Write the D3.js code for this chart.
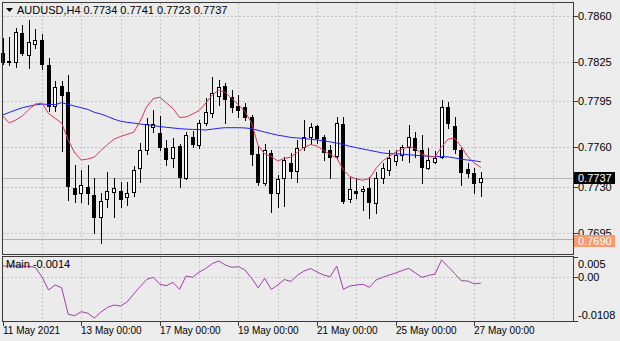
<!DOCTYPE html>
<html><head><meta charset="utf-8">
<script src="https://cdn.jsdelivr.net/npm/d3@7"></script>
<style>
body{margin:0;background:#ececec;}
svg{display:block;}
text{font-family:"Liberation Sans",Arial,sans-serif;font-size:11px;fill:#000;}
text.date{font-size:10px;}
</style>
</head><body>
<svg id="chart" width="620" height="341"></svg>
<script>
// AUDUSD H4 candles, 11 May 2021 00:00 .. 27 May 2021 04:00
const symbol = "AUDUSD,H4";
const open = [0.78319,0.78256,0.78252,0.78471,0.78303,0.78387,0.78414,0.78227,0.77915,0.78064,
  0.78018,0.77291,0.77251,0.77301,0.77238,0.77073,0.77204,0.77257,0.77272,0.77221,
  0.77257,0.77441,0.77581,0.77759,0.77712,0.77593,0.77517,0.77611,0.77371,0.77682,
  0.77619,0.77784,0.77860,0.77991,0.78068,0.77982,0.77915,0.77905,0.77834,0.77550,
  0.77329,0.77558,0.77253,0.77365,0.77484,0.77421,0.77601,0.77677,0.77763,0.77682,
  0.77581,0.77535,0.77778,0.77205,0.77271,0.77268,0.77289,0.77179,0.77365,0.77428,
  0.77499,0.77542,0.77601,0.77670,0.77581,0.77441,0.77491,0.77530,0.77910,0.77763,
  0.77581,0.77434,0.77403,0.77340];
const high = [0.78433,0.78443,0.78505,0.78532,0.78570,0.78501,0.78463,0.78281,0.78102,0.78102,
  0.78151,0.77466,0.77428,0.77466,0.77367,0.77253,0.77413,0.77367,0.77337,0.77337,
  0.77459,0.77634,0.77824,0.77885,0.77839,0.77657,0.77672,0.77626,0.77721,0.77725,
  0.77809,0.77974,0.78138,0.78113,0.78087,0.78037,0.77999,0.77938,0.77847,0.77611,
  0.77626,0.77581,0.77390,0.77527,0.77558,0.77653,0.77809,0.77784,0.77771,0.77695,
  0.77619,0.77829,0.77829,0.77377,0.77365,0.77307,0.77377,0.77415,0.77482,0.77581,
  0.77581,0.77619,0.77771,0.77720,0.77695,0.77593,0.77573,0.77961,0.77948,0.77834,
  0.77593,0.77479,0.77441,0.77410];
const low = [0.78235,0.78227,0.78214,0.78303,0.78205,0.78357,0.78197,0.77877,0.77877,0.77573,
  0.77200,0.77185,0.77185,0.77170,0.76949,0.76875,0.77147,0.77073,0.77147,0.77162,
  0.77230,0.77337,0.77550,0.77720,0.77581,0.77466,0.77453,0.77301,0.77360,0.77606,
  0.77593,0.77771,0.77834,0.77923,0.77786,0.77872,0.77832,0.77809,0.77466,0.77314,
  0.77314,0.77111,0.77149,0.77154,0.77367,0.77339,0.77581,0.77626,0.77634,0.77504,
  0.77367,0.77517,0.77179,0.77187,0.77213,0.77124,0.77063,0.77101,0.77329,0.77390,
  0.77466,0.77504,0.77491,0.77530,0.77332,0.77434,0.77482,0.77517,0.77746,0.77555,
  0.77314,0.77377,0.77251,0.77230];
const close = [0.78250,0.78252,0.78481,0.78316,0.78402,0.78418,0.78235,0.77915,0.78056,0.77999,
  0.77303,0.77242,0.77314,0.77251,0.77073,0.77189,0.77268,0.77288,0.77204,0.77251,
  0.77428,0.77581,0.77778,0.77782,0.77601,0.77510,0.77606,0.77377,0.77695,0.77626,
  0.77784,0.77872,0.78017,0.78058,0.77966,0.77905,0.77885,0.77834,0.77550,0.77339,
  0.77577,0.77256,0.77356,0.77504,0.77421,0.77593,0.77682,0.77753,0.77670,0.77568,
  0.77530,0.77784,0.77195,0.77281,0.77256,0.77284,0.77187,0.77370,0.77441,0.77517,
  0.77542,0.77601,0.77677,0.77581,0.77449,0.77504,0.77517,0.77910,0.77784,0.77586,
  0.77415,0.77408,0.77332,0.77370];
// fast moving average (red)
const maFast = [0.77839,0.77786,0.77809,0.77839,0.77889,0.77931,0.77938,0.77858,0.77822,0.77784,
  0.77657,0.77558,0.77504,0.77512,0.77527,0.77577,0.77622,0.77664,0.77683,0.77700,
  0.77715,0.77801,0.77912,0.77972,0.77982,0.77938,0.77896,0.77828,0.77832,0.77854,
  0.77881,0.77938,0.77999,0.78037,0.78018,0.77971,0.77923,0.77872,0.77786,0.77615,
  0.77550,0.77531,0.77497,0.77516,0.77527,0.77563,0.77600,0.77622,0.77611,0.77577,
  0.77546,0.77520,0.77428,0.77379,0.77360,0.77350,0.77364,0.77440,0.77497,0.77531,
  0.77565,0.77588,0.77605,0.77592,0.77550,0.77530,0.77530,0.77603,0.77664,0.77670,
  0.77607,0.77530,0.77482,0.77447];
// slow moving average (blue)
const maSlow = [0.77847,0.77866,0.77885,0.77902,0.77913,0.77924,0.77930,0.77927,0.77926,0.77940,
  0.77927,0.77914,0.77902,0.77889,0.77867,0.77854,0.77836,0.77815,0.77799,0.77791,
  0.77785,0.77778,0.77772,0.77766,0.77759,0.77753,0.77748,0.77743,0.77739,0.77737,
  0.77735,0.77733,0.77739,0.77746,0.77750,0.77750,0.77750,0.77748,0.77743,0.77730,
  0.77717,0.77705,0.77693,0.77685,0.77676,0.77672,0.77668,0.77662,0.77657,0.77650,
  0.77642,0.77633,0.77622,0.77609,0.77598,0.77588,0.77578,0.77568,0.77558,0.77553,
  0.77551,0.77549,0.77544,0.77540,0.77536,0.77533,0.77530,0.77530,0.77528,0.77520,
  0.77510,0.77504,0.77498,0.77491];
// oscillator "Main" line of the lower window
const mainLine = [0.00282,0.00282,0.00282,0.00282,0.00270,0.00245,0.00010,-0.00312,-0.00188,-0.00255,
  -0.00913,-0.00948,-0.00849,-0.00889,-0.01005,-0.00856,-0.00745,-0.00683,-0.00708,-0.00609,
  -0.00411,-0.00225,-0.00047,0.00002,-0.00171,-0.00205,-0.00121,-0.00295,0.00035,0.00002,
  0.00134,0.00220,0.00344,0.00406,0.00307,0.00250,0.00265,0.00183,-0.00022,-0.00255,
  -0.00022,-0.00295,-0.00188,-0.00052,-0.00101,0.00052,0.00158,0.00218,0.00134,0.00059,
  0.00017,0.00282,-0.00295,-0.00213,-0.00188,-0.00171,-0.00245,-0.00064,0.00002,0.00059,
  0.00109,0.00171,0.00225,0.00109,0.00002,0.00047,0.00084,0.00431,0.00270,0.00097,
  -0.00082,-0.00089,-0.00163,-0.00140];
const dateLabels = [
  {bar: 0, text: "11 May 2021"}, {bar: 12, text: "13 May 00:00"}, {bar: 24, text: "17 May 00:00"},
  {bar: 36, text: "19 May 00:00"}, {bar: 48, text: "21 May 00:00"}, {bar: 60, text: "25 May 00:00"},
  {bar: 72, text: "27 May 00:00"}];
const priceTicks = [0.7860, 0.7825, 0.7795, 0.7760, 0.7730, 0.7695];
const supportLevel = 0.7690;
const subTicks = [{v: 0.005, t: "0.005"}, {v: 0, t: "0.00"}, {v: -0.0108, t: "-0.0108"}];
const subLabel = "Main";

const svg = d3.select("#chart");
const frame = {left: 2.5, right: 573.5, top: 2.5, bottom: 254.5};
const sub = {top: 256.5, bottom: 321.5};
const n = open.length;

const x = d3.scaleLinear().domain([0, n - 1]).range([2.7, 2.7 + 6.55 * (n - 1)]);
const y = d3.scaleLinear().domain([0.76789, 0.78699]).range([254, 3]);
const ys = d3.scaleLinear().domain([-0.0108, 0.0053]).range([321, 256]);

const gridColor = "#c4c4c4";
const px = v => Math.round(v) + 0.5;

// panel backgrounds
svg.append("rect").attr("x", frame.left).attr("y", frame.top)
  .attr("width", frame.right - frame.left).attr("height", frame.bottom - frame.top).attr("fill", "#ebebeb");
svg.append("rect").attr("x", frame.left).attr("y", sub.top)
  .attr("width", frame.right - frame.left).attr("height", sub.bottom - sub.top).attr("fill", "#ebebeb");

const grid = svg.append("g").attr("stroke", gridColor).attr("stroke-dasharray", "2,2")
  .attr("shape-rendering", "crispEdges");
// vertical grid every day (6 bars)
for (let b = 6; x(b) < frame.right - 2; b += 6) {
  grid.append("line").attr("x1", px(x(b))).attr("x2", px(x(b))).attr("y1", frame.top).attr("y2", frame.bottom);
  grid.append("line").attr("x1", px(x(b))).attr("x2", px(x(b))).attr("y1", sub.top).attr("y2", sub.bottom);
}
priceTicks.forEach(p => {
  grid.append("line").attr("x1", frame.left).attr("x2", frame.right).attr("y1", px(y(p))).attr("y2", px(y(p)));
});
grid.append("line").attr("x1", frame.left).attr("x2", frame.right).attr("y1", px(ys(0))).attr("y2", px(ys(0)));

// bid line
const last = n - 1;
svg.append("line").attr("x1", frame.left).attr("x2", frame.right)
  .attr("y1", px(y(close[last]))).attr("y2", px(y(close[last])))
  .attr("stroke", "#b8b8b8").attr("shape-rendering", "crispEdges");

// support level
svg.append("line").attr("x1", frame.left).attr("x2", frame.right)
  .attr("y1", px(y(supportLevel))).attr("y2", px(y(supportLevel)))
  .attr("stroke", "#f79a6e").attr("shape-rendering", "crispEdges");

// candles
const candles = svg.append("g").attr("shape-rendering", "crispEdges");
d3.range(n).forEach(i => {
  const cx = Math.round(x(i));
  candles.append("line").attr("x1", cx + 0.5).attr("x2", cx + 0.5)
    .attr("y1", Math.round(y(high[i]))).attr("y2", Math.round(y(low[i])) + 1)
    .attr("stroke", "#000");
  const top = Math.round(y(Math.max(open[i], close[i])));
  const bot = Math.round(y(Math.min(open[i], close[i])));
  const bull = close[i] >= open[i];
  candles.append("rect").attr("x", cx - 1.5).attr("y", top + 0.5)
    .attr("width", 3).attr("height", Math.max(bot - top, 0))
    .attr("fill", bull ? "#fff" : "#000").attr("stroke", "#000");
});

// moving averages
const lineMain = d3.line().x((d, i) => x(i)).y(d => y(d));
svg.append("path").datum(maSlow).attr("d", lineMain).attr("fill", "none").attr("stroke", "#1f1fff").attr("stroke-width", 1);
svg.append("path").datum(maFast).attr("d", lineMain).attr("fill", "none").attr("stroke", "#e0355c").attr("stroke-width", 1);

// oscillator
const lineSub = d3.line().x((d, i) => x(i)).y(d => ys(d));
svg.append("path").datum(mainLine).attr("d", lineSub).attr("fill", "none").attr("stroke", "#a23ea8").attr("stroke-width", 1);

// frames
const frames = svg.append("g").attr("fill", "none").attr("stroke", "#3a3a3a").attr("shape-rendering", "crispEdges");
frames.append("rect").attr("x", frame.left).attr("y", frame.top).attr("width", frame.right - frame.left).attr("height", frame.bottom - frame.top);
frames.append("rect").attr("x", frame.left).attr("y", sub.top).attr("width", frame.right - frame.left).attr("height", sub.bottom - sub.top);

// price axis
const axisG = svg.append("g");
priceTicks.forEach(p => {
  axisG.append("line").attr("x1", frame.right).attr("x2", frame.right + 4).attr("y1", px(y(p))).attr("y2", px(y(p)))
    .attr("stroke", "#3a3a3a").attr("shape-rendering", "crispEdges");
  axisG.append("text").attr("x", 578).attr("y", y(p)).attr("dy", "0.36em").text(p.toFixed(4));
});
// current price label
const cy = y(close[last]);
axisG.append("rect").attr("x", 574).attr("y", Math.round(cy) - 6).attr("width", 41).attr("height", 12).attr("fill", "#000");
axisG.append("text").attr("x", 578).attr("y", cy).attr("dy", "0.36em").style("fill", "#fff").text(close[last].toFixed(4));
// support label
const sy = y(supportLevel);
axisG.append("rect").attr("x", 574).attr("y", Math.round(sy) - 4).attr("width", 41).attr("height", 12).attr("fill", "#f79a6e");
axisG.append("text").attr("x", 578).attr("y", sy + 2).attr("dy", "0.36em").style("fill", "#fff").text(supportLevel.toFixed(4));

// oscillator axis
subTicks.forEach(s => {
  const ty = ys(s.v);
  axisG.append("line").attr("x1", frame.right).attr("x2", frame.right + 4).attr("y1", px(ty)).attr("y2", px(ty))
    .attr("stroke", "#3a3a3a").attr("shape-rendering", "crispEdges");
  const ly = Math.min(Math.max(ty, 264), 315);
  axisG.append("text").attr("x", 578).attr("y", ly).attr("dy", "0.36em").text(s.t);
});

// time axis
dateLabels.forEach(d => {
  const tx = Math.round(x(d.bar));
  axisG.append("line").attr("x1", tx + 0.5).attr("x2", tx + 0.5).attr("y1", sub.bottom).attr("y2", sub.bottom + 4)
    .attr("stroke", "#3a3a3a").attr("shape-rendering", "crispEdges");
  axisG.append("text").attr("class", "date").attr("x", Math.max(tx, 3)).attr("y", 334).text(d.text);
});

// header
svg.append("path").attr("d", "M6,8 L13,8 L9.5,12 Z").attr("fill", "#000");
svg.append("text").attr("x", 17).attr("y", 14)
  .text(`${symbol} ${open[last].toFixed(4)} ${high[last].toFixed(4)} ${low[last].toFixed(4)} ${close[last].toFixed(4)}`);
svg.append("text").attr("x", 6).attr("y", 268)
  .text(`${subLabel} ${mainLine[last].toFixed(4)}`);
</script>
</body></html>
